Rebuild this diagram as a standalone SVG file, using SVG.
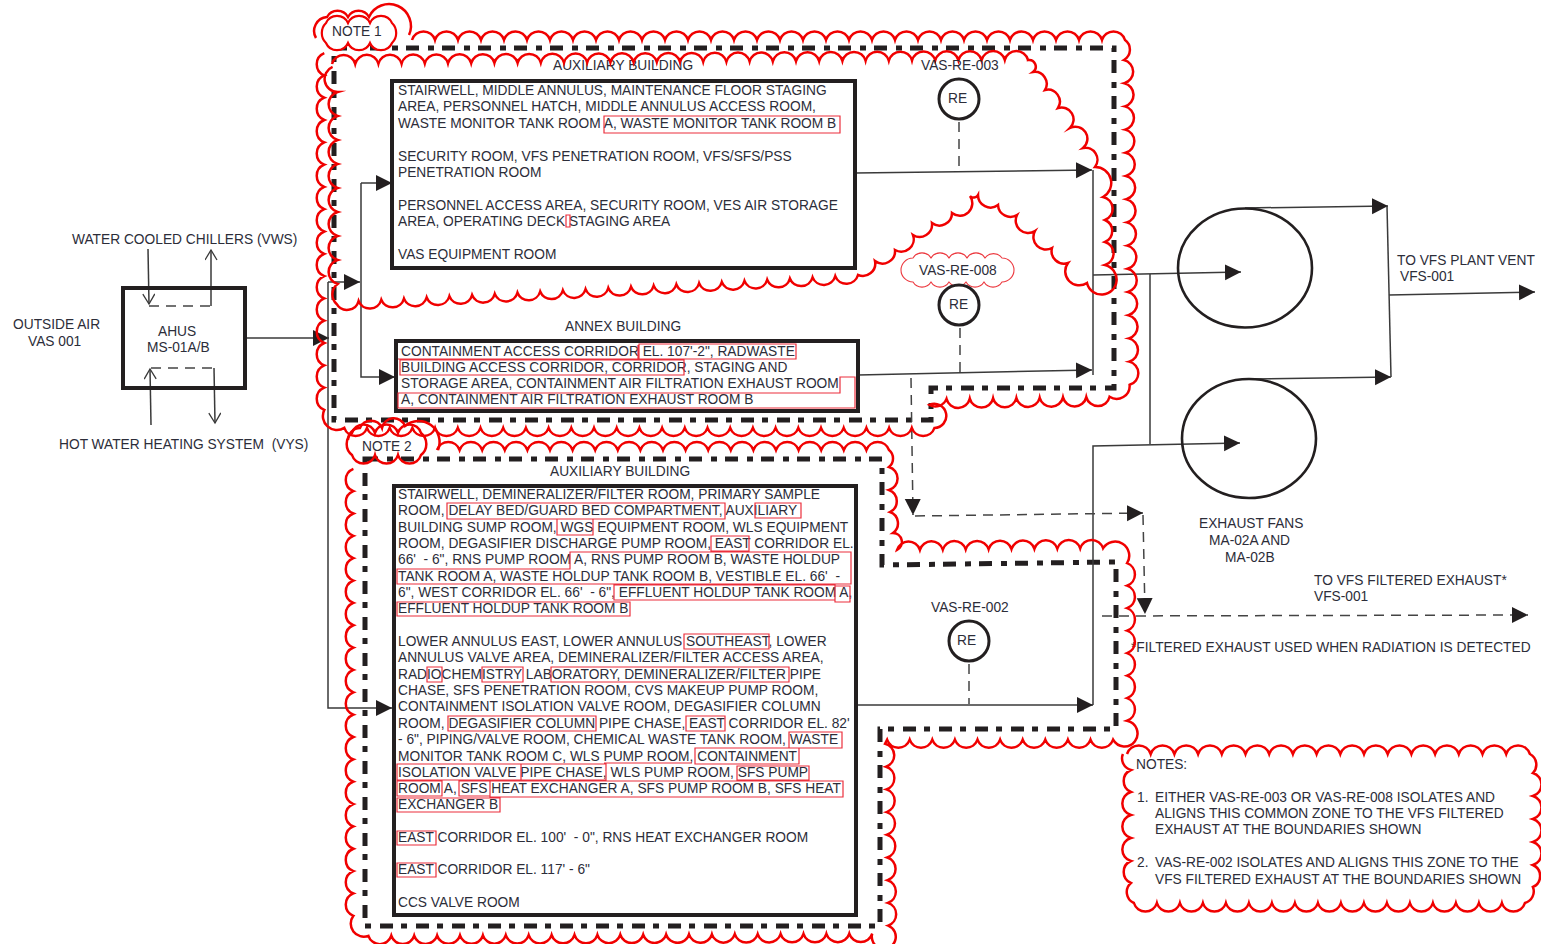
<svg xmlns="http://www.w3.org/2000/svg" width="1541" height="944" viewBox="0 0 1541 944">
<style>
text{font-family:"Liberation Sans",Arial,sans-serif;font-size:13.75px;fill:#2c2d39;white-space:pre}
.box{fill:none;stroke:#231f20;stroke-width:4}
.dd{fill:none;stroke:#231f20;stroke-width:5;stroke-dasharray:13 9 6 8}
.cl{fill:none;stroke:#f00000;stroke-width:2.5;stroke-linejoin:miter;stroke-miterlimit:8}
.hl{fill:none;stroke:#ec2f3c;stroke-width:1.2}
.ln{fill:none;stroke:#3a3a3a;stroke-width:1.5}
.da{fill:none;stroke:#444;stroke-width:1.5;stroke-dasharray:10 7}
.re{fill:#fff;stroke:#231f20;stroke-width:3}
.fan{fill:none;stroke:#231f20;stroke-width:2.6}
</style>
<defs>
<marker id="tri" markerUnits="userSpaceOnUse" markerWidth="18" markerHeight="18" refX="16" refY="8" orient="auto"><path d="M0 0L16 8L0 16z" fill="#231f20"/></marker>
<marker id="opn" markerUnits="userSpaceOnUse" markerWidth="14" markerHeight="14" refX="11" refY="6" orient="auto"><path d="M1 0L11 6L1 12" fill="none" stroke="#3a3a3a" stroke-width="1.3"/></marker>
</defs>
<rect width="1541" height="944" fill="#fff"/>

<g id="zone-boundaries">
<path class="dd" d="M334 48H1114V388H931V420H334Z"/>
<path class="dd" d="M365 459H882V565L1116 562V729H880V926H365Z"/>
</g>

<g id="connectors">
<path class="ln" d="M245 338H329" marker-end="url(#tri)"/>
<path class="ln" d="M328 282V708H392" marker-end="url(#tri)"/>
<path class="ln" d="M328 282H360" marker-end="url(#tri)"/>
<path class="ln" d="M361 183H392" marker-end="url(#tri)"/>
<path class="ln" d="M361 183V377H395" marker-end="url(#tri)"/>
<path class="ln" d="M855 173L1092 170" marker-end="url(#tri)"/>
<path class="ln" d="M858 375L1092 370" marker-end="url(#tri)"/>
<path class="ln" d="M1093 170V375"/>
<path class="ln" d="M1093 275L1241 272" marker-end="url(#tri)"/>
<path class="ln" d="M1150 274V444"/>
<path class="ln" d="M1093 705V446L1240 443" marker-end="url(#tri)"/>
<path class="ln" d="M856 705H1093" marker-end="url(#tri)"/>
<path class="ln" d="M1245 208L1388 206" marker-end="url(#tri)"/>
<path class="ln" d="M1249 379L1391 377" marker-end="url(#tri)"/>
<path class="ln" d="M1387 206L1391 377"/>
<path class="ln" d="M1389 295L1535 292" marker-end="url(#tri)"/>
<path class="da" d="M959 122V168"/>
<path class="da" d="M960 328V373"/>
<path class="da" d="M969 664V704"/>
<path class="da" d="M911 378L913 515" marker-end="url(#tri)"/>
<path class="da" d="M915 516L1143 513" marker-end="url(#tri)"/>
<path class="da" d="M1143 515L1145 614" marker-end="url(#tri)"/>
<path class="da" d="M1102 616L1528 615" marker-end="url(#tri)"/>
<path class="ln" d="M148 249L149 304" marker-end="url(#opn)"/>
<path class="ln" d="M211 306V250" marker-end="url(#opn)"/>
<path class="ln" d="M151 425L150 369" marker-end="url(#opn)"/>
<path class="ln" d="M214 368L215 423" marker-end="url(#opn)"/>
<path class="da" d="M149 306H211"/>
<path class="da" d="M151 368H214"/>
</g>

<g id="ahu">
<rect class="box" x="123" y="288" width="122" height="100"/>
<text x="158" y="336">AHUS</text>
<text x="147" y="352">MS-01A/B</text>
</g>

<g id="room-box-1">
<rect class="box" x="392" y="81" width="463" height="187"/>
<text><tspan x="398" y="95">STAIRWELL, MIDDLE ANNULUS, MAINTENANCE FLOOR STAGING</tspan><tspan x="398" y="111">AREA, PERSONNEL HATCH, MIDDLE ANNULUS ACCESS ROOM,</tspan><tspan x="398" y="128">WASTE MONITOR TANK ROOM A, WASTE MONITOR TANK ROOM B</tspan><tspan x="398" y="160.5">SECURITY ROOM, VFS PENETRATION ROOM, VFS/SFS/PSS</tspan><tspan x="398" y="176.5">PENETRATION ROOM</tspan><tspan x="398" y="209.5">PERSONNEL ACCESS AREA, SECURITY ROOM, VES AIR STORAGE</tspan><tspan x="398" y="225.5">AREA, OPERATING DECK STAGING AREA</tspan><tspan x="398" y="258.5">VAS EQUIPMENT ROOM</tspan></text>
<path class="hl" d="M604 116H840V133H604ZM566 215H570V227H566Z"/>
</g>

<g id="room-box-2">
<rect class="box" x="396" y="341" width="462" height="70"/>
<text><tspan x="401" y="356">CONTAINMENT ACCESS CORRIDOR EL. 107'-2", RADWASTE</tspan><tspan x="401" y="372">BUILDING ACCESS CORRIDOR, CORRIDOR, STAGING AND</tspan><tspan x="401" y="388">STORAGE AREA, CONTAINMENT AIR FILTRATION EXHAUST ROOM</tspan><tspan x="401" y="404">A, CONTAINMENT AIR FILTRATION EXHAUST ROOM B</tspan></text>
<path class="hl" d="M398 359H638V345M639 344H796V359H639ZM400 360H684V375H400ZM840 377H855V408H398V393H840Z"/>
</g>

<g id="room-box-3">
<rect class="box" x="394" y="486" width="462" height="429"/>
<text><tspan x="398" y="499">STAIRWELL, DEMINERALIZER/FILTER ROOM, PRIMARY SAMPLE</tspan><tspan x="398" y="515">ROOM, DELAY BED/GUARD BED COMPARTMENT, AUXILIARY</tspan><tspan x="398" y="532">BUILDING SUMP ROOM, WGS EQUIPMENT ROOM, WLS EQUIPMENT</tspan><tspan x="398" y="548">ROOM, DEGASIFIER DISCHARGE PUMP ROOM, EAST CORRIDOR EL.</tspan><tspan x="398" y="564">66'  - 6", RNS PUMP ROOM A, RNS PUMP ROOM B, WASTE HOLDUP</tspan><tspan x="398" y="581">TANK ROOM A, WASTE HOLDUP TANK ROOM B, VESTIBLE EL. 66'  -</tspan><tspan x="398" y="597">6", WEST CORRIDOR EL. 66'  - 6", EFFLUENT HOLDUP TANK ROOM A,</tspan><tspan x="398" y="613">EFFLUENT HOLDUP TANK ROOM B</tspan><tspan x="398" y="646">LOWER ANNULUS EAST, LOWER ANNULUS SOUTHEAST, LOWER</tspan><tspan x="398" y="662">ANNULUS VALVE AREA, DEMINERALIZER/FILTER ACCESS AREA,</tspan><tspan x="398" y="679">RADIOCHEMISTRY LABORATORY, DEMINERALIZER/FILTER PIPE</tspan><tspan x="398" y="695">CHASE, SFS PENETRATION ROOM, CVS MAKEUP PUMP ROOM,</tspan><tspan x="398" y="711">CONTAINMENT ISOLATION VALVE ROOM, DEGASIFIER COLUMN</tspan><tspan x="398" y="728">ROOM, DEGASIFIER COLUMN PIPE CHASE, EAST CORRIDOR EL. 82'</tspan><tspan x="398" y="744">- 6", PIPING/VALVE ROOM, CHEMICAL WASTE TANK ROOM, WASTE</tspan><tspan x="398" y="761">MONITOR TANK ROOM C, WLS PUMP ROOM, CONTAINMENT</tspan><tspan x="398" y="777">ISOLATION VALVE PIPE CHASE, WLS PUMP ROOM, SFS PUMP</tspan><tspan x="398" y="793">ROOM A, SFS HEAT EXCHANGER A, SFS PUMP ROOM B, SFS HEAT</tspan><tspan x="398" y="809">EXCHANGER B</tspan><tspan x="398" y="842">EAST CORRIDOR EL. 100'  - 0", RNS HEAT EXCHANGER ROOM</tspan><tspan x="398" y="874">EAST CORRIDOR EL. 117' - 6"</tspan><tspan x="398" y="907">CCS VALVE ROOM</tspan></text>
<path class="hl" d="M447 503H725V519H447ZM755 503H801V518H755ZM557 519H593V535H557ZM711 536H749V551H711ZM397 569H570V552H851V584H397ZM614 585H835V600H614ZM835 586H850V602H835ZM397 602H630V616H397ZM684 634H769V649H684ZM427 667H442V682H427ZM482 667H523V682H482ZM551 667H789V682H551ZM448 716H596V731H448ZM686 716H725V731H686ZM789 732H842V748H789ZM604 763H692M695 748H799V764H695ZM397 764H521V780H397ZM521 764H606V780H521ZM737 766H809V780H737ZM397 781H442V796H397ZM459 781H490V796H459ZM490 781H843V797H490ZM397 798H500V812H397ZM397 831H436V845H397ZM397 863H436V877H397Z"/>
</g>

<g id="labels">
<text x="553" y="70">AUXILIARY BUILDING</text>
<text x="565" y="331">ANNEX BUILDING</text>
<text x="550" y="476">AUXILIARY BUILDING</text>
<text x="72" y="244">WATER COOLED CHILLERS (VWS)</text>
<text x="13" y="329">OUTSIDE AIR</text>
<text x="28" y="346">VAS 001</text>
<text x="59" y="449">HOT WATER HEATING SYSTEM  (VYS)</text>
<text x="1397" y="265">TO VFS PLANT VENT</text>
<text x="1400" y="281">VFS-001</text>
<text x="1199" y="528">EXHAUST FANS</text>
<text x="1209" y="545">MA-02A AND</text>
<text x="1225" y="562">MA-02B</text>
<text x="1314" y="585">TO VFS FILTERED EXHAUST*</text>
<text x="1314" y="601">VFS-001</text>
<text x="1131" y="652">*FILTERED EXHAUST USED WHEN RADIATION IS DETECTED</text>
</g>

<g id="clouds">
<path id="cloud-note1-zone" class="cl" d="M412 40a12 12 0 0 1 23 0 12 12 0 0 1 23 0 12 12 0 0 1 23 0 12 12 0 0 1 23 0 12 12 0 0 1 23 0 12 12 0 0 1 23 0 12 12 0 0 1 23 0 12 12 0 0 1 23 0 12 12 0 0 1 23 0 12 12 0 0 1 23 0 12 12 0 0 1 23 0 12 12 0 0 1 23 0 12 12 0 0 1 23 0 12 12 0 0 1 23 0 12 12 0 0 1 23 0 12 12 0 0 1 23 0 12 12 0 0 1 23 0 12 12 0 0 1 23 0 12 12 0 0 1 23 0 12 12 0 0 1 23 0 12 12 0 0 1 23 0 12 12 0 0 1 23 0 12 12 0 0 1 23 0 12 12 0 0 1 23 0 12 12 0 0 1 23 0 12 12 0 0 1 23 0 12 12 0 0 1 23 0 12 12 0 0 1 23 0 12 12 0 0 1 23 0 12 12 0 0 1 23 0 12 12 0 0 1 23 0a12 12 0 0 1 -1 20a12 12 0 0 1 .4 23.2 12 12 0 0 1 .4 23.2 12 12 0 0 1 .4 23.2 12 12 0 0 1 .4 23.2 12 12 0 0 1 .4 23.2 12 12 0 0 1 .4 23.2 12 12 0 0 1 .4 23.2 12 12 0 0 1 .4 23.2 12 12 0 0 1 .4 23.2 12 12 0 0 1 .4 23.2 12 12 0 0 1 .4 23.2 12 12 0 0 1 .4 23.2 12 12 0 0 1 .4 23.2 12 12 0 0 1 .4 23.2a13 13 0 0 1 -20 12a12 12 0 0 1 -23.3 .3 12 12 0 0 1 -23.3 .3 12 12 0 0 1 -23.3 .3 12 12 0 0 1 -23.3 .3 12 12 0 0 1 -23.3 .3 12 12 0 0 1 -23.3 .3 12 12 0 0 1 -23.3 .3a12 12 0 0 1 -17 6a12 12 0 1 1 5 23a12 12 0 0 1 -22.7 0 12 12 0 0 1 -22.7 0 12 12 0 0 1 -22.7 0 12 12 0 0 1 -22.7 0 12 12 0 0 1 -22.7 0 12 12 0 0 1 -22.7 0 12 12 0 0 1 -22.7 0 12 12 0 0 1 -22.7 0 12 12 0 0 1 -22.7 0 12 12 0 0 1 -22.7 0 12 12 0 0 1 -22.7 0 12 12 0 0 1 -22.7 0 12 12 0 0 1 -22.7 0 12 12 0 0 1 -22.7 0 12 12 0 0 1 -22.7 0 12 12 0 0 1 -22.7 0 12 12 0 0 1 -22.7 0 12 12 0 0 1 -22.7 0 12 12 0 0 1 -22.7 0 12 12 0 0 1 -22.7 0 12 12 0 0 1 -22.7 0 12 12 0 0 1 -22.7 0 12 12 0 0 1 -22.7 0 12 12 0 0 1 -22.7 0 12 12 0 0 1 -22.7 0 12 12 0 0 1 -22.7 0a14 14 0 0 1 -20 -18a12 12 0 0 1 0 -22.3 12 12 0 0 1 0 -22.3 12 12 0 0 1 0 -22.3 12 12 0 0 1 0 -22.3 12 12 0 0 1 0 -22.3 12 12 0 0 1 0 -22.3 12 12 0 0 1 0 -22.3 12 12 0 0 1 0 -22.3 12 12 0 0 1 0 -22.3 12 12 0 0 1 0 -22.3 12 12 0 0 1 0 -22.3 12 12 0 0 1 0 -22.3 12 12 0 0 1 0 -22.3 12 12 0 0 1 0 -22.3 12 12 0 0 1 0 -22.3 12 12 0 0 1 0 -22.3"/>
<path id="cloud-aux-inner" class="cl" d="M332 64a12 12 0 0 1 23.2 -.14 12 12 0 0 1 23.2 -.14 12 12 0 0 1 23.2 -.14 12 12 0 0 1 23.2 -.14 12 12 0 0 1 23.2 -.14 12 12 0 0 1 23.2 -.14 12 12 0 0 1 23.2 -.14 12 12 0 0 1 23.2 -.14 12 12 0 0 1 23.2 -.14 12 12 0 0 1 23.2 -.14 12 12 0 0 1 23.2 -.14 12 12 0 0 1 23.2 -.14 12 12 0 0 1 23.2 -.14 12 12 0 0 1 23.2 -.14 12 12 0 0 1 23.2 -.14 12 12 0 0 1 23.2 -.14 12 12 0 0 1 23.2 -.14 12 12 0 0 1 23.2 -.14 12 12 0 0 1 23.2 -.14 12 12 0 0 1 23.2 -.14 12 12 0 0 1 23.2 -.14 12 12 0 0 1 23.2 -.14 12 12 0 0 1 23.2 -.14 12 12 0 0 1 23.2 -.14 12 12 0 0 1 23.2 -.14 12 12 0 0 1 23.2 -.14 12 12 0 0 1 23.2 -.14 12 12 0 0 1 23.2 -.14 12 12 0 0 1 23.2 -.14 12 12 0 0 1 23.2 -.14L1028 60a6.7 6.7 0 0 1 5 12a12 12 0 0 1 12 18 12 12 0 0 1 13 18 12 12 0 0 1 12 20 12 12 0 0 1 13 20 12 12 0 0 1 12 19a16 16 0 0 1 8 30a12 12 0 0 1 2 23 12 12 0 0 1 0 22 12 12 0 0 1 0 23a15 15 0 1 1 -18 18a14 14 0 0 1 -19 -20a12.5 12.5 0 0 1 -16 -15 12.5 12.5 0 0 1 -17 -17 12.5 12.5 0 0 1 -18 -16 12.5 12.5 0 0 1 -19 -10 12.5 12.5 0 0 1 -20 -10a5 5 0 0 1 -8 1a12.5 12.5 0 0 1 -18 17 12.5 12.5 0 0 1 -20 10 12.5 12.5 0 0 1 -19 12 12.5 12.5 0 0 1 -18 15 12.5 12.5 0 0 1 -20 11 12.5 12.5 0 0 1 -17 14a12 12 0 0 1 -22.7 1.18 12 12 0 0 1 -22.7 1.18 12 12 0 0 1 -22.7 1.18 12 12 0 0 1 -22.7 1.18 12 12 0 0 1 -22.7 1.18 12 12 0 0 1 -22.7 1.18 12 12 0 0 1 -22.7 1.18 12 12 0 0 1 -22.7 1.18 12 12 0 0 1 -22.7 1.18 12 12 0 0 1 -22.7 1.18 12 12 0 0 1 -22.7 1.18 12 12 0 0 1 -22.7 1.18 12 12 0 0 1 -22.7 1.18 12 12 0 0 1 -22.7 1.18 12 12 0 0 1 -22.7 1.18 12 12 0 0 1 -22.7 1.18 12 12 0 0 1 -22.7 1.18 12 12 0 0 1 -22.7 1.18 12 12 0 0 1 -22.7 1.18 12 12 0 0 1 -22.7 1.18 12 12 0 0 1 -22.7 1.18 12 12 0 0 1 -22.7 1.18a12 12 0 0 1 -22 3a13 13 0 0 1 1 -20a12.5 12.5 0 0 1 0 -24 12.5 12.5 0 0 1 0 -24 12.5 12.5 0 0 1 0 -24 12.5 12.5 0 0 1 0 -24 12.5 12.5 0 0 1 0 -24 12.5 12.5 0 0 1 0 -24 12.5 12.5 0 0 1 0 -24 12.5 12.5 0 0 1 0 -24a13 13 0 0 1 -5 -25"/>
<path id="cloud-note2-zone" class="cl" d="M437 450a12 12 0 0 1 22.6 0 12 12 0 0 1 22.6 0 12 12 0 0 1 22.6 0 12 12 0 0 1 22.6 0 12 12 0 0 1 22.6 0 12 12 0 0 1 22.6 0 12 12 0 0 1 22.6 0 12 12 0 0 1 22.6 0 12 12 0 0 1 22.6 0 12 12 0 0 1 22.6 0 12 12 0 0 1 22.6 0 12 12 0 0 1 22.6 0 12 12 0 0 1 22.6 0 12 12 0 0 1 22.6 0 12 12 0 0 1 22.6 0 12 12 0 0 1 22.6 0 12 12 0 0 1 22.6 0 12 12 0 0 1 22.6 0 12 12 0 0 1 22.6 0 12 12 0 0 1 22.6 0a11 11 0 0 1 0 17a12 12 0 0 1 0 23 12 12 0 0 1 1 22 12 12 0 0 1 3 21a9 9 0 0 1 4 17a12 12 0 0 1 22.9 -.2 12 12 0 0 1 22.9 -.2 12 12 0 0 1 22.9 -.2 12 12 0 0 1 22.9 -.2 12 12 0 0 1 22.9 -.2 12 12 0 0 1 22.9 -.2 12 12 0 0 1 22.9 -.2 12 12 0 0 1 22.9 -.2 12 12 0 0 1 22.9 -.2a14 14 0 0 1 24 15a12 12 0 0 1 0 22.5 12 12 0 0 1 0 22.5 12 12 0 0 1 0 22.5 12 12 0 0 1 0 22.5 12 12 0 0 1 0 22.5 12 12 0 0 1 0 22.5 12 12 0 0 1 0 22.5a13 13 0 1 1 -14 19a12 12 0 0 1 -22.6 0 12 12 0 0 1 -22.6 0 12 12 0 0 1 -22.6 0 12 12 0 0 1 -22.6 0 12 12 0 0 1 -22.6 0 12 12 0 0 1 -22.6 0 12 12 0 0 1 -22.6 0 12 12 0 0 1 -22.6 0 12 12 0 0 1 -22.6 0 12 12 0 0 1 -22.6 0l-2 4a12 12 0 0 1 1 23 12 12 0 0 1 .3 22.7 12 12 0 0 1 .3 22.7 12 12 0 0 1 .3 22.7 12 12 0 0 1 .3 22.7 12 12 0 0 1 .3 22.7 12 12 0 0 1 .3 22.7 12 12 0 0 1 .3 22.7a12 12 0 1 1 -16 8a12 12 0 0 1 -22.9 .1 12 12 0 0 1 -22.9 .1 12 12 0 0 1 -22.9 .1 12 12 0 0 1 -22.9 .1 12 12 0 0 1 -22.9 .1 12 12 0 0 1 -22.9 .1 12 12 0 0 1 -22.9 .1 12 12 0 0 1 -22.9 .1 12 12 0 0 1 -22.9 .1 12 12 0 0 1 -22.9 .1 12 12 0 0 1 -22.9 .1 12 12 0 0 1 -22.9 .1 12 12 0 0 1 -22.9 .1 12 12 0 0 1 -22.9 .1 12 12 0 0 1 -22.9 .1 12 12 0 0 1 -22.9 .1 12 12 0 0 1 -22.9 .1 12 12 0 0 1 -22.9 .1 12 12 0 0 1 -22.9 .1 12 12 0 0 1 -22.9 .1 12 12 0 0 1 -22.9 .1 12 12 0 0 1 -22.9 .1a13 13 0 0 1 -15 -20a12 12 0 0 1 0 -22.35 12 12 0 0 1 0 -22.35 12 12 0 0 1 0 -22.35 12 12 0 0 1 0 -22.35 12 12 0 0 1 0 -22.35 12 12 0 0 1 0 -22.35 12 12 0 0 1 0 -22.35 12 12 0 0 1 0 -22.35 12 12 0 0 1 0 -22.35 12 12 0 0 1 0 -22.35 12 12 0 0 1 0 -22.35 12 12 0 0 1 0 -22.35 12 12 0 0 1 0 -22.35 12 12 0 0 1 0 -22.35 12 12 0 0 1 0 -22.35 12 12 0 0 1 0 -22.35 12 12 0 0 1 0 -22.35 12 12 0 0 1 0 -22.35 12 12 0 0 1 0 -22.35 12 12 0 0 1 0 -22.35"/>
</g>

<g id="note-1">
<path d="M326 23a12 12 0 0 1 22 0 12 12 0 0 1 22 0 12 12 0 0 1 22 0a14 14 0 0 1 0 20a12 12 0 0 1 -22 0 12 12 0 0 1 -22 0 12 12 0 0 1 -22 0a14 14 0 0 1 0 -20z" fill="#fff" stroke="#f00000" stroke-width="2.2"/>
<path class="cl" d="M316 38a14 14 0 0 1 11 -21a12 12 0 0 1 21 0 12 12 0 0 1 21 0a21 21 0 0 1 40 18"/>
<text x="332" y="36">NOTE 1</text>
</g>

<g id="note-2">
<path class="cl" d="M352 433a12 12 0 0 1 23 0 12 12 0 0 1 23 0 12 12 0 0 1 23 0a14 14 0 0 1 0 22a12 12 0 0 1 -23 0 12 12 0 0 1 -23 0 12 12 0 0 1 -23 0a14 14 0 0 1 0 -22z"/>
<path class="cl" d="M348 440a12 12 0 0 1 12 -12a12 12 0 0 1 22 0 12 12 0 0 1 23 -2a21 21 0 0 1 33 24"/>
<text x="362" y="451">NOTE 2</text>
</g>

<g id="re-003">
<circle class="re" cx="959" cy="99" r="20"/>
<text x="948" y="103">RE</text>
<text x="921" y="70">VAS-RE-003</text>
</g>
<g id="re-008">
<path d="M913 258a10.5 10.5 0 0 1 18 0 10.5 10.5 0 0 1 18 0 10.5 10.5 0 0 1 18 0 10.5 10.5 0 0 1 18 0 10.5 10.5 0 0 1 17 0a12 12 0 0 1 0 24a10.5 10.5 0 0 1 -18 0 10.5 10.5 0 0 1 -18 0 10.5 10.5 0 0 1 -17 0 10.5 10.5 0 0 1 -18 0 10.5 10.5 0 0 1 -18 0a12 12 0 0 1 0 -24z" fill="none" stroke="#ec3a40" stroke-width="1.1"/>
<circle class="re" cx="959" cy="305" r="20"/>
<text x="949" y="309">RE</text>
<text x="919" y="275">VAS-RE-008</text>
</g>
<g id="re-002">
<circle class="re" cx="969" cy="641" r="20"/>
<text x="957" y="645">RE</text>
<text x="931" y="612">VAS-RE-002</text>
</g>

<g id="fan-a"><ellipse class="fan" cx="1245" cy="268" rx="67" ry="59.5"/></g>
<g id="fan-b"><ellipse class="fan" cx="1249" cy="438.5" rx="67" ry="59.5"/></g>

<g id="notes">
<path class="cl" d="M1127 754a12.5 12.5 0 0 1 23.7 0 12.5 12.5 0 0 1 23.7 0 12.5 12.5 0 0 1 23.7 0 12.5 12.5 0 0 1 23.7 0 12.5 12.5 0 0 1 23.7 0 12.5 12.5 0 0 1 23.7 0 12.5 12.5 0 0 1 23.7 0 12.5 12.5 0 0 1 23.7 0 12.5 12.5 0 0 1 23.7 0 12.5 12.5 0 0 1 23.7 0 12.5 12.5 0 0 1 23.7 0 12.5 12.5 0 0 1 23.7 0 12.5 12.5 0 0 1 23.7 0 12.5 12.5 0 0 1 23.7 0 12.5 12.5 0 0 1 23.7 0 12.5 12.5 0 0 1 23.7 0 12.5 12.5 0 0 1 23.7 0a12 12 0 0 1 3 19a12 12 0 0 1 0 23 12 12 0 0 1 0 23 12 12 0 0 1 0 23 12 12 0 0 1 0 23 12 12 0 0 1 0 22a12 12 0 0 1 -8 16a12 12 0 0 1 -23 0 12 12 0 0 1 -23 0 12 12 0 0 1 -23 0 12 12 0 0 1 -23 0 12 12 0 0 1 -23 0 12 12 0 0 1 -23 0 12 12 0 0 1 -23 0 12 12 0 0 1 -23 0 12 12 0 0 1 -23 0 12 12 0 0 1 -23 0 12 12 0 0 1 -23 0 12 12 0 0 1 -23 0 12 12 0 0 1 -23 0 12 12 0 0 1 -23 0 12 12 0 0 1 -23 0 12 12 0 0 1 -23 0 12 12 0 0 1 -23 0a12 12 0 0 1 -3 -20a12 12 0 0 1 0 -22 12 12 0 0 1 0 -23 12 12 0 0 1 0 -23 12 12 0 0 1 0 -23 12 12 0 0 1 0 -22a12 12 0 0 1 -8 -16"/>
<text x="1136" y="769">NOTES:</text>
<text><tspan x="1137" y="802">1.</tspan><tspan x="1155" y="802">EITHER VAS-RE-003 OR VAS-RE-008 ISOLATES AND</tspan><tspan x="1155" y="818">ALIGNS THIS COMMON ZONE TO THE VFS FILTERED</tspan><tspan x="1155" y="834">EXHAUST AT THE BOUNDARIES SHOWN</tspan><tspan x="1137" y="867">2.</tspan><tspan x="1155" y="867">VAS-RE-002 ISOLATES AND ALIGNS THIS ZONE TO THE</tspan><tspan x="1155" y="884">VFS FILTERED EXHAUST AT THE BOUNDARIES SHOWN</tspan></text>
</g>
</svg>
